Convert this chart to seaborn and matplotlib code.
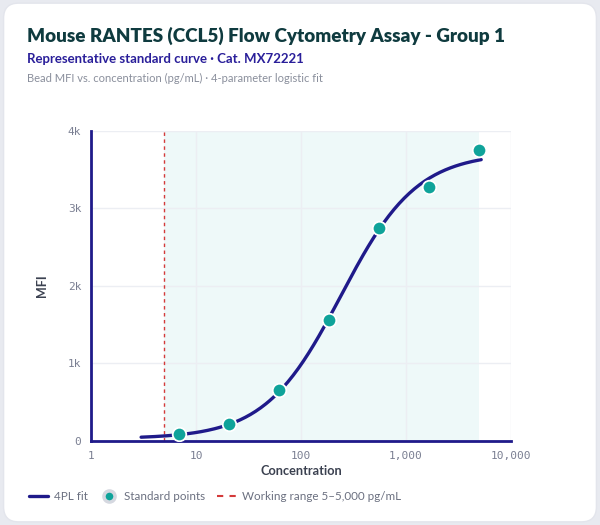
import numpy as np
import pandas as pd
import matplotlib.pyplot as plt
import seaborn as sns
from matplotlib.patches import FancyBboxPatch
from matplotlib.lines import Line2D
from matplotlib.ticker import FixedLocator, FixedFormatter, NullLocator

# standard points (3-fold dilution series)
conc = [6.86, 20.6, 61.7, 185.2, 555.6, 1666.7, 5000]
mfi = [86, 219, 658, 1557, 2752, 3281, 3755]

# 4PL fit parameters: bottom, hill slope, EC50, top
fit_bottom = 30
fit_hill = 1.2
fit_ec50 = 240
fit_top = 3720
fit_range = [3, 5200]

working_range = [5, 5000]

x_ticks = [1, 10, 100, 1000, 10000]
x_tick_labels = ["1", "10", "100", "1,000", "10,000"]
y_ticks = [0, 1000, 2000, 3000, 4000]
y_tick_labels = ["0", "1k", "2k", "3k", "4k"]

navy = "#1f1a8a"
teal = "#0fa39a"
red = "#d43a3a"

fit_x = np.logspace(np.log10(fit_range[0]), np.log10(fit_range[1]), 200)
fit_y = fit_top + (fit_bottom - fit_top) / (1 + (fit_x / fit_ec50) ** fit_hill)
fit_df = pd.DataFrame({"Concentration": fit_x, "MFI": fit_y})
pts_df = pd.DataFrame({"Concentration": conc, "MFI": mfi})

sns.set_theme(style="white")
plt.rcParams["font.family"] = ["Lato", "DejaVu Sans"]

fig = plt.figure(figsize=(6, 5.25), dpi=100)
fig.patch.set_facecolor("#e8eaf0")
card = FancyBboxPatch((0.006, 0.006), 0.988, 0.988, boxstyle="round,pad=0,rounding_size=0.025",
                      transform=fig.transFigure, facecolor="white", edgecolor="#e3e5ec",
                      linewidth=1, zorder=-1, mutation_aspect=600 / 525)
fig.patches.append(card)

ax = fig.add_axes([0.1517, 0.16, 0.70, 0.5905])
ax.set_facecolor("none")
ax.set_xscale("log")
ax.set_xlim(1, 10000)
ax.set_ylim(0, 4000)

ax.axvspan(working_range[0], working_range[1], color="#eef9f9", zorder=0, lw=0)
ax.axvline(working_range[0], color=red, lw=1, ls=(0, (2.5, 2.5)), zorder=1)

sns.lineplot(data=fit_df, x="Concentration", y="MFI", ax=ax, color=navy, lw=2.4, zorder=3)
sns.scatterplot(data=pts_df, x="Concentration", y="MFI", ax=ax, color=teal, s=95,
                edgecolor="white", linewidth=1.3, zorder=4)

ax.xaxis.set_major_locator(FixedLocator(x_ticks))
ax.xaxis.set_major_formatter(FixedFormatter(x_tick_labels))
ax.xaxis.set_minor_locator(NullLocator())
ax.set_yticks(y_ticks)
ax.set_yticklabels(y_tick_labels)
ax.grid(True, color="#eceef3", lw=1, zorder=0)
ax.set_axisbelow(True)

for side in ["top", "right"]:
    ax.spines[side].set_visible(False)
for side in ["left", "bottom"]:
    ax.spines[side].set_color(navy)
    ax.spines[side].set_linewidth(2)

ax.tick_params(axis="both", length=0, labelsize=8, colors="#7a7f92", pad=7)
for lbl in ax.get_xticklabels() + ax.get_yticklabels():
    lbl.set_fontfamily("DejaVu Sans Mono")
ax.set_xlabel("Concentration", fontsize=9.2, color="#3b4150", fontweight="bold", labelpad=3)
ax.set_ylabel("MFI", fontsize=9, color="#3b4150", fontweight="bold", labelpad=14)

fig.text(0.045, 0.931, "Mouse RANTES (CCL5) Flow Cytometry Assay - Group 1", fontsize=13.6,
         fontweight="heavy", color="#0f3b3f", va="center")
fig.text(0.045, 0.888, "Representative standard curve · Cat. MX72221", fontsize=9.5,
         fontweight="bold", color="#2a1f9a", va="center")
fig.text(0.045, 0.851, "Bead MFI vs. concentration (pg/mL) · 4-parameter logistic fit", fontsize=8.0,
         color="#8a8f9c", va="center")

handles = [
    Line2D([], [], color=navy, lw=2.4),
    Line2D([], [], marker="o", ls="", markersize=8, markerfacecolor=teal,
           markeredgecolor="#d5d8e0", markeredgewidth=2.5),
    Line2D([], [], color=red, lw=1.5, ls=(0, (3, 3))),
]
labels = ["4PL fit", "Standard points", "Working range 5–5,000 pg/mL"]
fig.legend(handles, labels, loc="center left", bbox_to_anchor=(0.03, 0.055), ncol=3,
           frameon=False, fontsize=8.4, labelcolor="#6b7080", handlelength=1.7,
           handletextpad=0.45, columnspacing=1.0)

fig.savefig("out.png", dpi=100, facecolor=fig.get_facecolor())
